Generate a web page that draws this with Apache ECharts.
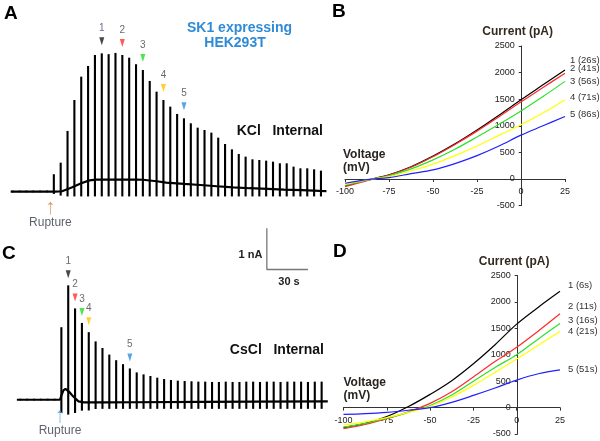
<!DOCTYPE html>
<html><head><meta charset="utf-8">
<script src="https://cdn.jsdelivr.net/npm/echarts@6/dist/echarts.min.js"></script>
<style>html,body{margin:0;padding:0;background:#fff}#c{width:600px;height:441px}</style>
</head><body><div id="c"></div>
<script>
// ---------- Panel A : KCl internal, whole-cell trace (time in s, current in pA) ----------
const sweepTimeA = [2,7,12,17,22,27,32,37,42,47,52,57,62,67,72,77,82,87,92,97,102,107,112,117,122,127,132,137,142,147,152,157,162,167,172,177,182,187,192,197,202,207,212,217,222,227];
const sweepTopA = [25,25,25,25,25,25,418,696,1457,2200,2760,3017,3280,3320,3300,3330,3280,3215,3058,2920,2657,2400,2200,2040,1865,1760,1640,1536,1480,1416,1296,1144,1016,904,840,776,760,744,720,680,680,600,560,560,536,504];
const sweepBottomA = [-15,-15,-15,-15,-15,-15,-55,-95,-115,-115,-115,-115,-115,-115,-115,-115,-115,-115,-115,-115,-115,-115,-115,-115,-115,-115,-115,-115,-115,-115,-115,-115,-115,-115,-115,-115,-115,-115,-115,-115,-115,-115,-115,-115,-115,-115];
const holdTimeA = [0.5,30,33,38,45,52,58,63,92,97,107,114,127,139,151,163,175,188,200,213,226,231];
const holdCurrentA = [0,0,0,10,100,200,270,290,290,285,250,216,185,160,130,104,82,64,48,34,18,14];
const markIndexA = [13,16,19,22,25];
const ruptureTimeA = 29.5;

// ---------- Panel C : CsCl internal ----------
const sweepTimeC = [7.5,12.5,17.5,22.5,27.5,32.5,37.5,42.5,47.5,52.5,57.5,62.5,67.5,72.5,77.5,82.5,87.5,92.5,97.5,102.5,107.5,112.5,117.5,122.5,127.5,132.5,137.5,142.5,147.5,152.5,157.5,162.5,167.5,172.5,177.5,182.5,187.5,192.5,197.5,202.5,207.5,212.5,217.5,222.5,227.5];
const sweepTopC = [25,25,25,25,25,25,1760,2776,2216,1864,1640,1416,1256,1096,960,864,760,664,616,576,536,504,480,464,456,448,440,440,432,432,440,432,432,440,440,432,440,440,432,440,440,440,432,440,440];
const sweepBottomC = [-15,-15,-15,-15,-15,-15,-320,-360,-320,-264,-260,-224,-220,-220,-220,-220,-220,-220,-220,-220,-220,-220,-220,-220,-220,-220,-220,-220,-220,-220,-220,-220,-220,-220,-220,-220,-220,-220,-220,-220,-220,-220,-220,-220,-220];
const holdTimeC = [5,36.5,37.5,39,40.5,43,45,48,50,54,70,90,140,180,232];
const holdCurrentC = [0,0,100,230,264,200,120,20,-38,-62,-65,-60,-50,-45,-40];
const markIndexC = [7,8,9,10,16];
const ruptureTimeC = 36.5;

const markLabels = ['1','2','3','4','5'];

// ---------- Panels B & D : I-V relations (mV, pA) ----------
const voltage = [-100,-87.5,-75,-62.5,-50,-37.5,-25,-12.5,0,12.5,25];
const voltageTicks = [-100,-75,-50,-25,0,25];
const currentTicks = [-500,0,500,1000,1500,2000,2500];

const ivB1 = [-130,-20,80,230,430,660,920,1200,1490,1770,2050];
const ivB2 = [-145,-30,75,220,420,650,900,1170,1450,1720,1990];
const ivB3 = [-120,-20,60,190,360,560,790,1030,1280,1550,1835];
const ivB4 = [-100,-15,45,150,280,440,620,820,1020,1240,1490];
const ivB5 = [-80,-10,25,100,170,290,440,620,825,1000,1175];
const namesB = ['1 (26s)','2 (41s)','3 (56s)','4 (71s)','5 (86s)'];

const ivD1 = [-380,-300,-170,20,250,510,830,1190,1580,1900,2200];
const ivD2 = [-400,-320,-210,-80,80,300,580,870,1140,1450,1775];
const ivD3 = [-370,-300,-200,-90,40,240,500,760,1000,1300,1590];
const ivD4 = [-330,-270,-190,-90,20,200,420,670,920,1180,1440];
const ivD5 = [-130,-115,-90,-50,0,100,230,370,520,640,715];
const namesD = ['1 (6s)','2 (11s)','3 (16s)','4 (21s)','5 (51s)'];

// ---------- styles ----------
const FONT = 'Arial, "Liberation Sans", sans-serif';
const ivColors = ['#000000','#ff2a2a','#2ee02e','#ffff00','#2020ff'];
const markColors = ['#1a1a1a','#ff3030','#22dd22','#ffc400','#2f8fdf'];
const endOffB = [[0,-10],[0,-5],[0,0],[0,-2.5],[0,-2.5]];
const endOffD = [[0,-6],[0,-7],[0,-3.5],[0,0],[0,0]];

const chart = echarts.init(document.getElementById('c'), null, {renderer:'canvas'});

function spikeSeries(ax, times, bottoms, tops) {
  return {
    type:'custom', xAxisIndex:ax, yAxisIndex:ax, silent:true, clip:false,
    encode:{x:0, y:[1,2]},
    data: times.map((t,i)=>[t, bottoms[i], tops[i]]),
    renderItem: function(params, api){
      const x = api.value(0);
      const p1 = api.coord([x, api.value(1)]);
      const p2 = api.coord([x, api.value(2)]);
      return {type:'line', shape:{x1:p1[0],y1:p1[1],x2:p2[0],y2:p2[1]}, style:{stroke:'#000', lineWidth:2.1}};
    }
  };
}
function holdSeries(ax, times, vals) {
  return {type:'line', xAxisIndex:ax, yAxisIndex:ax, clip:false, showSymbol:false, silent:true,
    data: times.map((t,i)=>[t, vals[i]]), lineStyle:{color:'#000', width:2.2}, z:3};
}
function markerSeries(ax, idx, times, tops, offY) {
  return {type:'scatter', xAxisIndex:ax, yAxisIndex:ax, clip:false, silent:true, z:5,
    symbol:'path://M0,0 L10,0 L5,16 Z', symbolSize:[5,8], symbolOffset:[0,offY],
    data: idx.map((k,j)=>({value:[times[k], tops[k]], itemStyle:{color:markColors[j]},
      label:{show:true, formatter:markLabels[j], position:'top', distance:4,
        color: (ax===0 && j===0) ? '#4a3a70' : '#444', fontSize:10, fontFamily:FONT}}))
  };
}
function ruptureSeries(ax, t, color) {
  return {type:'scatter', xAxisIndex:ax, yAxisIndex:ax, clip:false, silent:true,
    symbol:'path://M5,0 L10,7 L5.6,5 L5.6,26 L4.4,26 L4.4,5 L0,7 Z', symbolSize:[6,13], symbolOffset:[0,16.7],
    itemStyle:{color:color},
    data:[[t,0]],
    label:{show:true, formatter:'Rupture', position:'bottom', distance:2, color:'#333a48', fontSize:12, fontFamily:FONT}
  };
}
function ivSeries(ax, data, name, i, offs, dist) {
  return {type:'line', name:name, xAxisIndex:ax, yAxisIndex:ax, smooth:0.35, showSymbol:false, silent:true,
    data: voltage.map((v,k)=>[v, data[k]]),
    lineStyle:{color:ivColors[i], width:1.2}, itemStyle:{color:ivColors[i]},
    endLabel:{show:true, formatter:name, color:'#333', fontSize:9.5, fontFamily:FONT, distance:dist, offset:offs[i]}
  };
}
const plain = v => String(v);
function ivX(grid, nameGap, off) {
  return {gridIndex:grid, type:'value', position:'bottom', offset:off,
    min:voltageTicks[0], max:voltageTicks[voltageTicks.length-1], interval:25,
    axisLine:{onZero:false, lineStyle:{color:'#333', width:1}},
    axisTick:{show:true, length:3, lineStyle:{color:'#333'}},
    axisLabel:{fontSize:9, color:'#222', margin:8, fontFamily:FONT, showMinLabel:true, showMaxLabel:true, formatter:plain},
    splitLine:{show:false},
    name:'Voltage\n(mV)', nameLocation:'start', nameGap:nameGap,
    nameTextStyle:{align:'left', verticalAlign:'bottom', fontWeight:'bold', fontSize:12, lineHeight:13, color:'#2a2420', fontFamily:FONT, padding:[0,0,5,0]}
  };
}
function ivY(grid, nameGap, shift, off) {
  return {gridIndex:grid, type:'value', position:'left', offset:off,
    min:currentTicks[0], max:currentTicks[currentTicks.length-1], interval:500,
    axisLine:{onZero:false, lineStyle:{color:'#333', width:1}},
    axisTick:{show:true, length:3, lineStyle:{color:'#333'}},
    axisLabel:{fontSize:9, color:'#222', margin:7, fontFamily:FONT, formatter:plain},
    splitLine:{show:false},
    name:'Current (pA)', nameLocation:'end', nameGap:nameGap,
    nameTextStyle:{fontWeight:'bold', fontSize:12, color:'#33291f', fontFamily:FONT, padding:[0,shift,0,0]}
  };
}
const hidden = (grid, min, max) => ({gridIndex:grid, type:'value', min:min, max:max, show:false, splitLine:{show:false}});

const txt = (x, y, s, font, color, align) => ({type:'text', x:x, y:y, silent:true,
  style:{text:s, font:font, fill:color, align:align||'left', verticalAlign:'middle'}});

chart.setOption({
  animation:false,
  backgroundColor:'#fff',
  grid:[
    {left:10, top:25, width:317.8, height:208.3},
    {left:345, top:46, width:220, height:159.6},
    {left:10, top:222.5, width:317.8, height:220.8},
    {left:343.5, top:275.5, width:216.5, height:158.5}
  ],
  xAxis:[ hidden(0,0,232), ivX(1,2,-26.6), hidden(2,0,232), ivX(3,0,-26.4) ],
  yAxis:[ hidden(0,-1000,4000), ivY(1,8,8,-176.7), hidden(2,-1000,4300), ivY(3,7.5,7,-174.2) ],
  series:[
    spikeSeries(0, sweepTimeA, sweepBottomA, sweepTopA),
    holdSeries(0, holdTimeA, holdCurrentA),
    markerSeries(0, markIndexA, sweepTimeA, sweepTopA, -12),
    ruptureSeries(0, ruptureTimeA, '#c8862c'),
    spikeSeries(2, sweepTimeC, sweepBottomC, sweepTopC),
    holdSeries(2, holdTimeC, holdCurrentC),
    markerSeries(2, markIndexC, sweepTimeC, sweepTopC, -11),
    ruptureSeries(2, ruptureTimeC, '#3a8fd6'),
    {type:'line', xAxisIndex:2, yAxisIndex:2, clip:false, showSymbol:false, silent:true,
      data:[[187.5,4160],[187.5,3160],[217.5,3160]], lineStyle:{color:'#777', width:1.3}},
    ivSeries(1, ivB1, namesB[0], 0, endOffB, 5),
    ivSeries(1, ivB2, namesB[1], 1, endOffB, 5),
    ivSeries(1, ivB3, namesB[2], 2, endOffB, 5),
    ivSeries(1, ivB4, namesB[3], 3, endOffB, 5),
    ivSeries(1, ivB5, namesB[4], 4, endOffB, 5),
    ivSeries(3, ivD1, namesD[0], 0, endOffD, 8),
    ivSeries(3, ivD2, namesD[1], 1, endOffD, 8),
    ivSeries(3, ivD3, namesD[2], 2, endOffD, 8),
    ivSeries(3, ivD4, namesD[3], 3, endOffD, 8),
    ivSeries(3, ivD5, namesD[4], 4, endOffD, 8)
  ],
  graphic:[
    txt(4, 14, 'A', 'bold 19px ' + FONT, '#000'),
    txt(332, 12, 'B', 'bold 19px ' + FONT, '#000'),
    txt(2, 253.5, 'C', 'bold 19px ' + FONT, '#000'),
    txt(333, 252, 'D', 'bold 19px ' + FONT, '#000'),
    txt(239.5, 28.5, 'SK1 expressing', 'bold 14px ' + FONT, '#2f8bd6', 'center'),
    txt(235, 43.5, 'HEK293T', 'bold 14px ' + FONT, '#2f8bd6', 'center'),
    txt(323, 131, 'KCl   Internal', 'bold 14px ' + FONT, '#111', 'right'),
    txt(324, 350, 'CsCl   Internal', 'bold 14px ' + FONT, '#111', 'right'),
    txt(250.5, 254.5, '1 nA', 'bold 11px ' + FONT, '#222', 'center'),
    txt(289, 282, '30 s', 'bold 11px ' + FONT, '#222', 'center')
  ]
});
</script></body></html>
